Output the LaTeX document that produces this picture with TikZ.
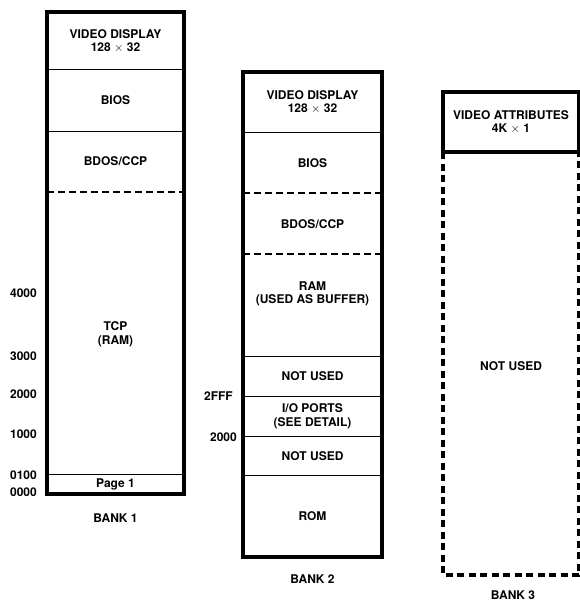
\documentclass[tikz,border=0pt]{standalone}
\usepackage{fontspec}
\setmainfont{TeX Gyre Heros}
\usetikzlibrary{positioning}
\tikzset{
  frame/.style={line width=3.2pt, line join=miter},
  div/.style={line width=0.9pt},
  dashdiv/.style={line width=1.4pt, dash pattern=on 7pt off 4pt},
  unused/.style={line width=3.2pt, dash pattern=on 7pt off 4.5pt},
  lab/.style={align=center, inner sep=1pt},
  addr/.style={anchor=east, inner sep=1pt},
}
\begin{document}
\begin{tikzpicture}[x=1pt, y=-1pt, font=\fontsize{12}{13.5}\selectfont\bfseries]
    \useasboundingbox (0,0) rectangle (580,603);
    % bank 1
    \draw[frame] (47,12) rectangle (184,494);
    \foreach \y in {69,131,474} \draw[div] (47,\y) -- (184,\y);
    \draw[dashdiv] (47,192) -- (184,192);
    \node[lab] (vd1) at (115.5,41) {VIDEO DISPLAY\\128 $\times$ 32};
    \node[lab] (bios1) at (115.5,100) {BIOS};
    \node[lab] (bdos1) at (115.5,161) {BDOS/CCP};
    \node[lab] (tcp) at (115.5,334) {TCP\\(RAM)};
    \node[lab] (page) at (115.5,484) {Page 1};
    \node[addr] (a4000) at (38,293) {4000};
    \node[addr] (a3000) at (38,356) {3000};
    \node[addr] (a2000) at (38,394) {2000};
    \node[addr] (a1000) at (38,434) {1000};
    \node[addr] (a0100) at (38,475) {0100};
    \node[addr] (a0000) at (38,492) {0000};
    \node[lab] (bank1) at (115.5,518) {BANK 1};
    % bank 2
    \draw[frame] (243,72) rectangle (382,557);
    \foreach \y in {132,356,396,436,475} \draw[div] (243,\y) -- (382,\y);
    \foreach \y in {193,254} \draw[dashdiv] (243,\y) -- (382,\y);
    \node[lab] (vd2) at (312.5,102) {VIDEO DISPLAY\\128 $\times$ 32};
    \node[lab] (bios2) at (312.5,163) {BIOS};
    \node[lab] (bdos2) at (312.5,224) {BDOS/CCP};
    \node[lab] (ram) at (312.5,294) {RAM\\(USED AS BUFFER)};
    \node[lab] (nu2a) at (312.5,376) {NOT USED};
    \node[lab] (io) at (312.5,416) {I/O PORTS\\(SEE DETAIL)};
    \node[lab] (nu2b) at (312.5,456) {NOT USED};
    \node[lab] (rom) at (312.5,516) {ROM};
    \node[addr] (a2fff) at (234,396) {2FFF};
    \node[addr] (a2000b) at (238,437) {2000};
    \node[lab] (bank2) at (312.5,579) {BANK 2};
    % bank 3
    \draw[frame] (443,92) rectangle (579,152);
    \draw[unused] (443,152) -- (443,575) -- (579,575) -- (579,152);
    \node[lab] (va) at (511,122) {VIDEO ATTRIBUTES\\4K $\times$ 1};
    \node[lab] (nu3) at (511,366) {NOT USED};
    \node[lab] (bank3) at (513,595) {BANK 3};
\end{tikzpicture}
\end{document}
